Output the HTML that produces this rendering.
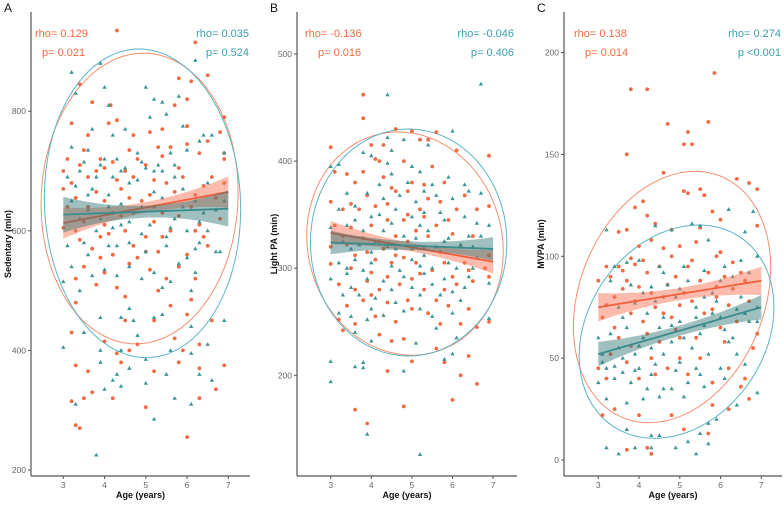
<!DOCTYPE html>
<html><head><meta charset="utf-8"><style>
html,body{margin:0;padding:0;background:#fff;}
svg{display:block;font-family:"Liberation Sans",sans-serif;}
</style></head><body>
<svg id="chart" width="784" height="505" viewBox="0 0 784 505"></svg>
<script>
// ---------- DATA ----------
const sedOrange=[[4.3,935],[6.2,915],[6.5,860],[6.1,850],[5.8,855],[3.4,845],[3.7,815],[4.15,810],[5.7,810],[6.0,820],[3.2,780],[4.1,780],[4.3,785],[5.1,765],[6.8,765],[6.9,790],[3.0,700],[3.1,720],[3.5,735],[3.4,710],[3.9,720],[4.5,700],[4.8,720],[5.3,740],[5.6,740],[6.3,730],[6.5,750],[6.9,720],[3.0,670],[3.2,680],[3.6,690],[4.0,650],[4.4,670],[4.7,690],[5.1,660],[5.5,680],[5.9,690],[6.2,660],[6.6,690],[3.1,640],[3.6,640],[4.2,630],[4.9,650],[5.4,630],[6.1,640],[6.8,620],[3.0,605],[3.3,600],[3.9,590],[4.5,600],[5.0,590],[5.6,600],[6.4,590],[3.7,570],[4.2,560],[4.8,555],[5.3,565],[6.0,560],[6.5,575],[3.5,540],[4.0,530],[4.6,545],[5.1,535],[5.5,520],[6.2,520],[3.3,480],[3.8,510],[4.5,490],[5.6,475],[6.1,485],[3.2,430],[4.0,415],[4.5,450],[5.2,450],[5.7,420],[6.0,460],[6.3,410],[6.9,375],[3.3,375],[3.6,365],[4.3,395],[4.8,410],[5.2,365],[5.8,380],[6.3,370],[3.2,315],[3.5,320],[3.7,330],[4.2,320],[5.0,305],[6.3,320],[6.7,335],[3.3,275],[3.4,270],[6.0,255],[4.6,400],[4.4,380],[5.9,400],[6.6,450],[6.9,680],[3.3,520],[6.9,730],[3.8,700],[4.0,705],[4.2,715],[4.6,735],[5.0,710],[5.4,725],[5.8,705],[6.0,745],[3.3,655],[3.8,665],[4.3,685],[4.6,655],[5.2,685],[5.7,665],[6.4,675],[6.7,655],[3.5,615],[4.0,610],[4.4,625],[5.2,615],[5.8,625],[6.3,610],[3.4,585],[4.1,595],[4.7,575],[5.4,590],[6.2,600],[3.9,555],[5.0,565],[5.8,540],[4.3,505],[5.3,500],[4.7,760],[5.4,770],[6.0,775],[3.6,760]];
const sedTeal=[[3.2,865],[3.3,830],[3.9,880],[4.0,840],[6.2,885],[4.1,810],[5.0,840],[5.2,820],[5.4,815],[5.8,825],[5.1,790],[5.5,795],[4.5,770],[3.2,740],[3.6,735],[3.9,710],[4.3,720],[4.8,730],[5.2,700],[5.7,710],[6.3,750],[6.6,760],[6.9,730],[3.1,690],[3.4,700],[3.7,670],[4.2,690],[4.6,680],[5.0,705],[5.4,700],[5.9,670],[6.5,680],[3.2,650],[3.6,660],[4.1,660],[4.4,645],[4.9,640],[5.4,655],[5.9,640],[6.4,630],[6.9,650],[3.4,620],[3.9,620],[4.2,605],[4.6,615],[5.1,610],[5.5,590],[6.0,600],[6.5,600],[3.1,575],[3.5,580],[4.3,575],[4.6,580],[5.5,575],[6.2,570],[6.8,565],[3.2,540],[3.7,525],[4.0,535],[4.6,540],[5.2,530],[5.8,545],[6.2,530],[3.0,515],[3.4,500],[4.9,520],[5.4,505],[6.1,500],[3.9,455],[4.4,455],[4.6,470],[5.2,455],[5.4,460],[6.1,440],[6.9,450],[3.0,405],[3.5,430],[3.9,400],[4.4,400],[4.8,425],[5.6,400],[6.1,395],[6.5,410],[3.9,380],[4.3,360],[4.6,370],[5.0,385],[5.5,360],[6.3,360],[6.6,350],[4.2,350],[4.0,335],[4.4,340],[5.0,345],[5.7,320],[6.1,310],[3.3,310],[5.2,285],[3.8,225],[6.7,565],[4.7,450],[3.5,715],[4.0,720],[4.5,705],[4.9,715],[5.3,710],[5.6,730],[6.0,735],[6.4,760],[3.3,675],[3.8,690],[4.4,700],[4.8,685],[5.2,665],[5.7,690],[6.2,650],[6.7,635],[3.6,635],[4.1,640],[4.7,630],[5.2,640],[5.7,620],[6.3,615],[3.8,600],[4.4,610],[4.9,595],[5.6,605],[6.3,580],[3.6,560],[4.1,575],[5.0,565],[6.0,555],[4.3,525],[5.6,515],[3.7,770],[4.2,760],[5.9,775]];
const lpaOrange=[[3.8,462],[3.8,440],[4.6,430],[5.0,428],[5.6,427],[4.0,415],[4.3,415],[3.0,413],[5.2,420],[5.4,420],[6.1,410],[6.9,405],[3.1,390],[3.8,390],[4.2,400],[4.8,400],[5.5,395],[3.4,388],[3.6,380],[4.5,375],[4.9,372],[5.3,378],[5.8,380],[6.3,368],[3.0,362],[3.3,355],[3.7,355],[4.1,358],[4.4,345],[4.9,350],[5.3,348],[5.7,362],[6.1,355],[6.6,355],[6.9,358],[3.1,340],[3.5,338],[4.0,340],[4.6,330],[5.1,335],[5.6,340],[6.0,332],[6.5,330],[3.0,320],[3.4,322],[3.9,315],[4.3,318],[4.8,310],[5.3,318],[5.8,305],[6.3,305],[6.8,300],[3.0,304],[3.5,300],[4.0,296],[4.5,305],[5.0,290],[5.5,298],[6.0,292],[6.5,288],[6.9,292],[3.2,285],[3.6,280],[4.2,280],[4.7,285],[5.3,280],[6.1,285],[3.4,265],[3.8,270],[4.4,268],[5.0,262],[5.4,258],[5.9,265],[6.4,262],[3.2,252],[3.6,248],[4.1,255],[4.6,250],[5.7,248],[6.2,248],[6.6,245],[3.3,242],[4.2,238],[4.5,232],[4.8,234],[5.6,225],[5.8,212],[5.0,213],[6.4,218],[4.4,204],[6.2,200],[6.6,192],[6.0,177],[4.8,171],[3.6,168],[3.9,155],[6.9,250],[6.9,312],[4.1,402],[4.3,385],[4.6,372],[5.0,380],[5.4,365],[3.5,360],[3.9,368],[4.4,360],[4.8,345],[5.2,355],[5.9,345],[3.3,330],[3.8,328],[4.2,325],[4.9,325],[5.4,330],[6.2,320],[3.6,312],[4.1,308],[4.6,312],[5.1,305],[5.7,315],[6.4,298],[3.9,288],[4.4,292],[5.2,295],[5.8,280],[4.0,275],[4.9,270],[5.6,270]];
const lpaTeal=[[4.4,462],[6.7,472],[6.0,428],[4.4,422],[4.8,420],[5.4,415],[3.8,408],[4.4,398],[5.2,390],[5.9,385],[3.2,397],[4.0,405],[4.5,388],[3.0,395],[4.9,380],[5.5,378],[6.3,378],[6.4,372],[3.4,370],[3.9,370],[4.3,365],[4.7,368],[5.1,362],[5.6,368],[6.0,365],[6.7,370],[3.2,355],[3.6,358],[4.2,350],[4.6,355],[5.0,348],[5.3,352],[5.8,345],[6.3,348],[6.9,340],[3.0,338],[3.4,340],[3.8,335],[4.3,335],[4.8,330],[5.4,335],[5.9,328],[6.4,330],[3.3,325],[3.7,322],[4.1,325],[4.6,318],[5.1,328],[5.6,320],[6.2,322],[6.7,330],[3.2,305],[3.6,308],[4.0,305],[4.5,302],[5.0,308],[5.5,300],[6.1,300],[6.6,310],[3.0,290],[3.4,295],[3.9,290],[4.3,288],[4.8,292],[5.3,295],[5.8,290],[6.3,282],[6.9,286],[3.3,275],[3.7,275],[4.1,272],[4.6,268],[5.2,275],[5.7,275],[6.2,270],[3.2,258],[3.5,255],[3.9,252],[4.3,256],[4.8,260],[5.5,255],[6.0,258],[6.9,253],[3.6,240],[4.0,232],[5.1,230],[5.6,244],[6.1,235],[5.8,215],[6.0,220],[3.0,213],[3.8,212],[3.6,208],[3.8,207],[4.8,204],[3.0,194],[3.9,145],[5.2,126],[6.5,300],[4.5,410],[5.0,395],[4.2,378],[5.3,372],[3.6,345],[4.0,348],[4.5,342],[5.2,340],[5.7,352],[6.6,342],[3.5,318],[4.0,315],[4.4,320],[5.0,318],[5.3,312],[5.8,325],[6.5,320],[3.4,300],[3.8,298],[4.7,298],[5.2,302],[5.9,305],[6.4,292],[3.5,282],[4.5,280],[5.0,282],[5.5,285],[6.0,278],[4.0,262],[5.2,262]];
const mvpaOrange=[[5.85,190],[3.8,182],[4.2,182],[5.7,166],[4.7,165],[5.2,161],[5.1,155],[5.3,155],[3.7,150],[4.6,141],[6.4,138],[6.7,136],[6.9,133],[5.1,132],[5.5,133],[5.2,131],[5.6,130],[4.1,127],[3.9,124],[4.2,120],[5.8,122],[6.0,118],[3.5,112],[3.7,113],[4.4,116],[4.8,113],[5.5,114],[6.9,115],[3.2,95],[3.5,95],[3.8,99],[4.0,105],[4.3,108],[4.6,104],[5.0,105],[5.4,107],[5.9,100],[6.3,97],[6.5,92],[3.0,88],[3.3,90],[3.6,93],[3.9,96],[4.2,92],[4.5,95],[4.9,90],[5.2,95],[5.7,92],[6.1,90],[6.6,88],[3.1,70],[3.4,65],[3.8,72],[4.1,68],[4.4,75],[4.8,70],[5.3,78],[5.6,72],[6.0,65],[6.4,68],[6.9,62],[3.0,45],[3.3,52],[3.7,48],[4.0,40],[4.3,50],[4.7,45],[5.2,42],[5.5,50],[5.8,38],[6.2,45],[6.6,40],[3.1,22],[3.4,25],[4.0,22],[4.8,22],[5.1,15],[5.7,13],[5.8,27],[6.2,25],[6.7,30],[3.7,5],[4.2,6],[4.3,3],[4.6,80],[5.9,85],[3.6,84],[5.0,60],[4.5,58],[3.2,40],[6.8,55],[6.5,36],[3.4,80],[3.7,88],[4.0,85],[4.3,82],[4.7,86],[5.1,82],[5.5,88],[5.9,80],[6.3,84],[6.7,78],[3.2,76],[3.9,78],[4.6,72],[5.0,76],[5.8,74],[6.2,76],[3.5,60],[4.2,62],[4.9,64],[5.4,60],[6.1,58],[3.8,56],[4.4,42],[5.0,50],[5.3,98],[4.8,100],[4.1,98],[6.0,102]];
const mvpaTeal=[[6.2,123],[6.8,122],[3.2,113],[4.4,115],[5.3,116],[5.5,115],[6.6,112],[5.7,108],[4.8,113],[3.4,95],[3.7,97],[4.0,98],[4.5,95],[5.1,95],[5.6,93],[6.1,95],[6.5,98],[6.9,100],[3.3,88],[3.8,86],[4.3,85],[4.7,86],[5.2,88],[5.8,82],[6.3,90],[3.5,75],[3.9,77],[4.4,78],[4.9,80],[5.4,75],[5.9,78],[6.5,80],[3.0,60],[3.3,62],[3.7,65],[4.1,60],[4.5,65],[5.0,68],[5.5,62],[6.0,70],[6.6,72],[3.1,52],[3.5,55],[3.9,52],[4.3,55],[4.8,58],[5.3,55],[5.7,52],[6.2,58],[6.9,68],[3.2,45],[3.6,43],[4.0,45],[4.4,47],[5.0,48],[5.4,45],[6.0,45],[6.4,52],[3.0,38],[3.4,40],[3.8,38],[4.2,35],[4.6,35],[5.2,38],[5.6,36],[6.1,40],[6.6,47],[3.2,30],[3.7,28],[4.1,30],[4.5,31],[4.8,35],[5.1,31],[5.9,20],[6.4,27],[6.9,33],[3.7,15],[4.3,12],[4.5,12],[5.2,9],[5.7,18],[5.7,8],[3.2,6],[3.5,3],[3.9,6],[4.3,6],[4.9,6],[5.4,3],[5.5,13],[6.9,75],[4.6,70],[3.6,50],[4.0,56],[4.6,52],[5.1,60],[5.6,66],[6.1,64],[6.7,68],[3.4,46],[3.9,44],[4.3,42],[4.9,44],[5.5,42],[6.3,60],[3.6,70],[4.2,72],[4.8,66],[5.4,70],[5.8,72],[6.4,74],[3.1,48],[4.1,82],[5.0,84],[6.0,88],[6.7,92],[4.6,92],[5.6,80]];
// regression fits: [y at age 3, y at age 7, band half-width at ends, band half-width mid]
const sedFitOrange=[613,665,26,9];
const sedFitTeal=[627,637,30,10];
const lpaFitOrange=[333,306,11,4];
const lpaFitTeal=[324,318,11,4];
const mvpaFitOrange=[75,88,7,3];
const mvpaFitTeal=[52,75,6,2.5];
// ellipses: [centre age, centre value, half-width years, half-height value, shear value/yr]
const sedEllOrange=[4.85,654,2.39,243,4];
const sedEllTeal=[4.92,646,2.38,258,-4];
const lpaEllOrange=[4.83,323,2.42,104,-3];
const lpaEllTeal=[4.92,324,2.42,106,0];
const mvpaEllOrange=[4.81,80,2.42,60,6];
const mvpaEllTeal=[4.92,63,2.39,51,5];
const xTicks=[3,4,5,6,7];
const sedTicks=[200,400,600,800];
const lpaTicks=[200,300,400,500];
const mvpaTicks=[0,50,100,150,200];
const stats=[["rho= 0.129","p= 0.021","rho= 0.035","p= 0.524"],["rho= -0.136","p= 0.016","rho= -0.046","p= 0.406"],["rho= 0.138","p= 0.014","rho= 0.274","p <0.001"]];

// ---------- RENDER ----------
const svg=document.getElementById('chart');
const NS='http://www.w3.org/2000/svg';
function mk(tag,attrs,parent){const e=document.createElementNS(NS,tag);for(const k in attrs)e.setAttribute(k,attrs[k]);(parent||svg).appendChild(e);return e;}
const OR='#f26a43',TE='#3b9696';
const panels=[
 {key:'sedentary',letter:'A',title:'Sedentary (min)',ax0:31,ax1:250,x3:63.3,xs:41.25,yref:200,ypx:470,ys:0.598,ticks:sedTicks,o:sedOrange,t:sedTeal,fo:sedFitOrange,ft:sedFitTeal,eo:sedEllOrange,et:sedEllTeal,tx:8,sl:[35,42],sr:249},
 {key:'light-pa',letter:'B',title:'Light PA (min)',ax0:297,ax1:517,x3:330.7,xs:40.6,yref:200,ypx:375.3,ys:1.071,ticks:lpaTicks,o:lpaOrange,t:lpaTeal,fo:lpaFitOrange,ft:lpaFitTeal,eo:lpaEllOrange,et:lpaEllTeal,tx:274,sl:[305,318],sr:514},
 {key:'mvpa',letter:'C',title:'MVPA (min)',ax0:564,ax1:782,x3:598.3,xs:40.75,yref:0,ypx:460,ys:2.037,ticks:mvpaTicks,o:mvpaOrange,t:mvpaTeal,fo:mvpaFitOrange,ft:mvpaFitTeal,eo:mvpaEllOrange,et:mvpaEllTeal,tx:541,sl:[574,585],sr:781}
];
panels.forEach((p,pi)=>{
 const g=mk('g',{});
 
 
 const X=v=>p.x3+(v-3)*p.xs, Y=v=>p.ypx-(v-p.yref)*p.ys;
 const top=12,bot=476;
 [[p.eo,'#f4906f','orange'],[p.et,'#5bb5c9','teal']].forEach(([e,c,n])=>{
  let d='';for(let i=0;i<=72;i++){const a=i/72*2*Math.PI;const dx=e[2]*Math.cos(a);const yy=e[1]+e[3]*Math.sin(a)+e[4]*dx;d+=(i?'L':'M')+X(e[0]+dx).toFixed(1)+','+Y(yy).toFixed(1);}
  const el=mk('path',{d:d+'Z',fill:'none',stroke:c,'stroke-width':1},g);
  
  
 });
 p.o.forEach(pt=>{const c=mk('circle',{cx:X(pt[0]).toFixed(1),cy:Y(pt[1]).toFixed(1),r:1.9,fill:OR},g);
  
  });
 p.t.forEach(pt=>{const x=X(pt[0]),y=Y(pt[1]);const c=mk('polygon',{points:`${x},${y-2.3} ${x-2.2},${y+1.5} ${x+2.2},${y+1.5}`,fill:TE},g);
  
  });
 [[p.fo,'rgba(250,120,90,0.5)','#f0603c','orange'],[p.ft,'rgba(45,115,115,0.45)','#3a8c8c','teal']].forEach(([f,fill,lc,n])=>{
  const up=[],lo=[];
  for(let i=0;i<=20;i++){const a=3+i*0.2;const y=f[0]+(f[1]-f[0])*(a-3)/4;const hw=f[3]+(f[2]-f[3])*((a-5)/2)**2;up.push(X(a).toFixed(1)+','+Y(y+hw).toFixed(1));lo.unshift(X(a).toFixed(1)+','+Y(y-hw).toFixed(1));}
  const b=mk('polygon',{points:up.concat(lo).join(' '),fill:fill},g);
  
  
  const l=mk('line',{x1:X(3),y1:Y(f[0]),x2:X(7),y2:Y(f[1]),stroke:lc,'stroke-width':1.8},g);
  
  
 });
 const ya=mk('line',{x1:p.ax0,y1:top,x2:p.ax0,y2:bot,stroke:'#555','stroke-width':1.2},g);
 
 
 const xa=mk('line',{x1:p.ax0,y1:bot,x2:p.ax1,y2:bot,stroke:'#555','stroke-width':1.2},g);
 
 
 p.ticks.forEach(t=>{mk('line',{x1:p.ax0-3,x2:p.ax0,y1:Y(t),y2:Y(t),stroke:'#555'},g);
  const tl=mk('text',{x:p.ax0-5,y:Y(t)+3,'text-anchor':'end','font-size':8.5,fill:'#666'},g);tl.textContent=t;
  
  });
 xTicks.forEach(t=>{mk('line',{x1:X(t),x2:X(t),y1:bot,y2:bot+3,stroke:'#555'},g);
  const tl=mk('text',{x:X(t),y:bot+12,'text-anchor':'middle','font-size':8.5,fill:'#666'},g);tl.textContent=t;
  
  });
 const xt=mk('text',{x:(p.ax0+p.ax1)/2,y:498,'text-anchor':'middle','font-size':9,'font-weight':'bold',fill:'#111'},g);xt.textContent='Age (years)';
 
 
 const yt=mk('text',{x:0,y:0,'text-anchor':'middle','font-size':9,'font-weight':'bold',fill:'#111',transform:`translate(${p.tx+3},${(top+bot)/2}) rotate(-90)`},g);yt.textContent=p.title;
 
 
 const lt=mk('text',{x:p.ax0-27,y:12,'font-size':12,fill:'#111'},g);lt.textContent=p.letter;
 
 
 const s=stats[pi];
 [[s[0],p.sl[0],37,'start',OR,'orange-rho'],[s[1],p.sl[1],56,'start',OR,'orange-p'],[s[2],p.sr,37,'end','#3a9fae','teal-rho'],[s[3],p.sr,56,'end','#3a9fae','teal-p']].forEach(a=>{
  const t=mk('text',{x:a[1],y:a[2],'text-anchor':a[3],'font-size':11,fill:a[4]},g);t.textContent=a[0];
  
  
 });
});
</script>
</body></html>
